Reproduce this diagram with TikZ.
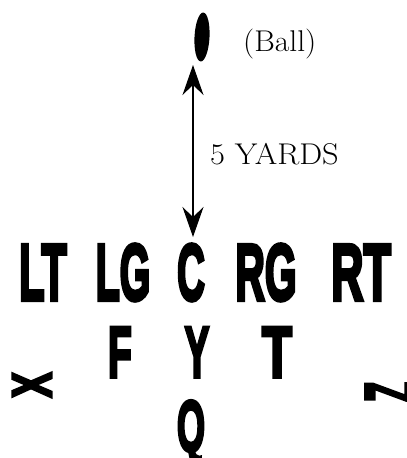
\documentclass[tikz,border=0pt]{standalone}
\usepackage{fontspec}
\usepackage{graphicx}
\usetikzlibrary{arrows.meta,shapes.geometric}
\newfontfamily\plyrfont[BoldFeatures={FakeBold=5}]{Liberation Sans}
\newcommand\plyr[3]{\scalebox{#1}[1]{\plyrfont\bfseries\fontsize{#2}{#2}\selectfont #3}}
\begin{document}
\begin{tikzpicture}[x=1pt,y=-1pt,
  plpos/.style={inner sep=0pt,anchor=base},
  lbl/.style={inner sep=0pt,anchor=base west,font=\fontsize{30}{32}\selectfont},
  arr/.style={line width=1.1pt,{Stealth[length=30pt,width=21pt,inset=10pt]}-{Stealth[length=30pt,width=21pt,inset=10pt]}}]
\useasboundingbox (0,0) rectangle (407,458);
% ball
\node[ellipse,fill=black,minimum width=15pt,minimum height=49pt,inner sep=0pt,rotate=-3] (ball) at (202,37) {};
\node[lbl] (balltxt) at (243,51) {\scalebox{1.05}[1]{(Ball)}};
% arrow
\coordinate (atop) at (193,65);
\coordinate (abot) at (193,237);
\draw[arr] (atop) -- (abot);
\node[lbl] (yards) at (210,164) {\scalebox{1.08}[1]{5 YARDS}};
% line
\node[plpos] (LT) at (43,300) {\plyr{0.52}{80}{LT}};
\node[plpos] (LG) at (123,300) {\plyr{0.49}{80}{LG}};
\node[plpos] (C)  at (191,300) {\plyr{0.48}{80}{C}};
\node[plpos] (RG) at (266,300) {\plyr{0.51}{80}{RG}};
\node[plpos] (RT) at (361,300) {\plyr{0.56}{80}{RT}};
% second row
\node[plpos] (F) at (120,377) {\plyr{0.54}{72}{F}};
\node[plpos] (Y) at (197,377) {\plyr{0.51}{72}{Y}};
\node[plpos] (T) at (277,377) {\plyr{0.68}{72}{T}};
% Q
\node[plpos] (Q) at (191,451) {\plyr{0.5}{72}{Q}};
% ends
\node[inner sep=0pt,rotate=90] (X) at (32,385) {\plyr{0.68}{56}{X}};
\node[inner sep=0pt,rotate=90] (Z) at (390,392) {\plyr{0.47}{70}{Z}};
\end{tikzpicture}
\end{document}
